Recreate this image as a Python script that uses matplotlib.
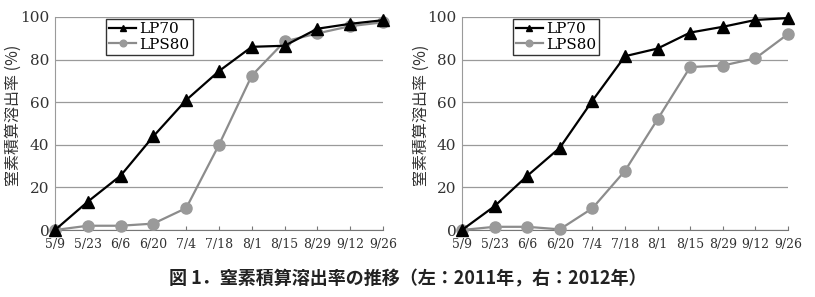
import matplotlib.pyplot as plt

plt.rcParams['font.family'] = ['DejaVu Serif', 'Noto Sans CJK JP']

dates = ['5/9', '5/23', '6/6', '6/20', '7/4', '7/18', '8/1', '8/15', '8/29', '9/12', '9/26']

# 2011 (left)
lp70_2011 = [0, 13.3, 25.5, 44, 61, 74.6, 86, 86.5, 94.5, 96.8, 98.5]
lps80_2011 = [0, 2, 2, 3, 10.3, 40, 72.5, 88.5, 92.3, 95.7, 97.5]

# 2012 (right)
lp70_2012 = [0, 11.2, 25.4, 38.6, 60.7, 81.6, 85.2, 92.7, 95.4, 98.6, 99.5]
lps80_2012 = [0, 1.5, 1.5, 0.3, 10.2, 27.8, 52, 76.5, 77.2, 80.6, 92]

ylabel = '窒素積算溶出率 (%)'
caption = '図 1．窒素積算溶出率の推移（左：2011年，右：2012年）'

fig = plt.figure(figsize=(8.15, 2.97), dpi=100)
ax1 = fig.add_axes([55 / 815, 67 / 297, 328 / 815, 213 / 297])
ax2 = fig.add_axes([462 / 815, 67 / 297, 326 / 815, 213 / 297])


def draw(ax, a, b):
    x = list(range(len(dates)))
    ax.plot(x, a, color='black', lw=1.6, marker='^', ms=8, label='LP70', clip_on=False, zorder=4)
    ax.plot(x, b, color='#8c8c8c', lw=1.6, marker='o', ms=8, mfc='#9a9a9a', mec='#9a9a9a',
            label='LPS80', clip_on=False, zorder=3)
    ax.set_xlim(0, len(dates) - 1)
    ax.set_ylim(0, 100)
    ax.set_yticks([0, 20, 40, 60, 80, 100])
    ax.set_xticks(x)
    ax.set_xticklabels(dates, fontsize=9)
    ax.tick_params(axis='y', length=0, labelsize=11, pad=4, labelcolor='#333333')
    ax.tick_params(axis='x', direction='in', length=3, color='#777777', pad=6, labelcolor='#333333')
    ax.grid(axis='y', color='#9a9a9a', lw=0.9)
    ax.set_axisbelow(True)
    for s in ['top', 'right']:
        ax.spines[s].set_visible(False)
    ax.spines['left'].set_color('#9a9a9a')
    ax.spines['bottom'].set_color('#777777')
    ax.set_ylabel(ylabel, family=['Noto Sans CJK JP'], fontsize=11.5, color='#333333')
    ax.yaxis.set_label_coords(-0.1, 0.54)
    leg = ax.legend(loc='upper left', bbox_to_anchor=(0.155, 0.99), fontsize=11,
                    frameon=True, fancybox=False, edgecolor='black', borderpad=0.2,
                    handlelength=1.8, handletextpad=0.2, labelspacing=0.1, markerscale=0.6,
                    borderaxespad=0)
    leg.get_frame().set_linewidth(1.0)


draw(ax1, lp70_2011, lps80_2011)
draw(ax2, lp70_2012, lps80_2012)

fig.text(0.5, 1 - 279 / 297, caption, ha='center', va='center', fontsize=13,
         family=['Noto Sans CJK JP'], weight='bold', color='#222222')

fig.savefig('out.png', dpi=100)
